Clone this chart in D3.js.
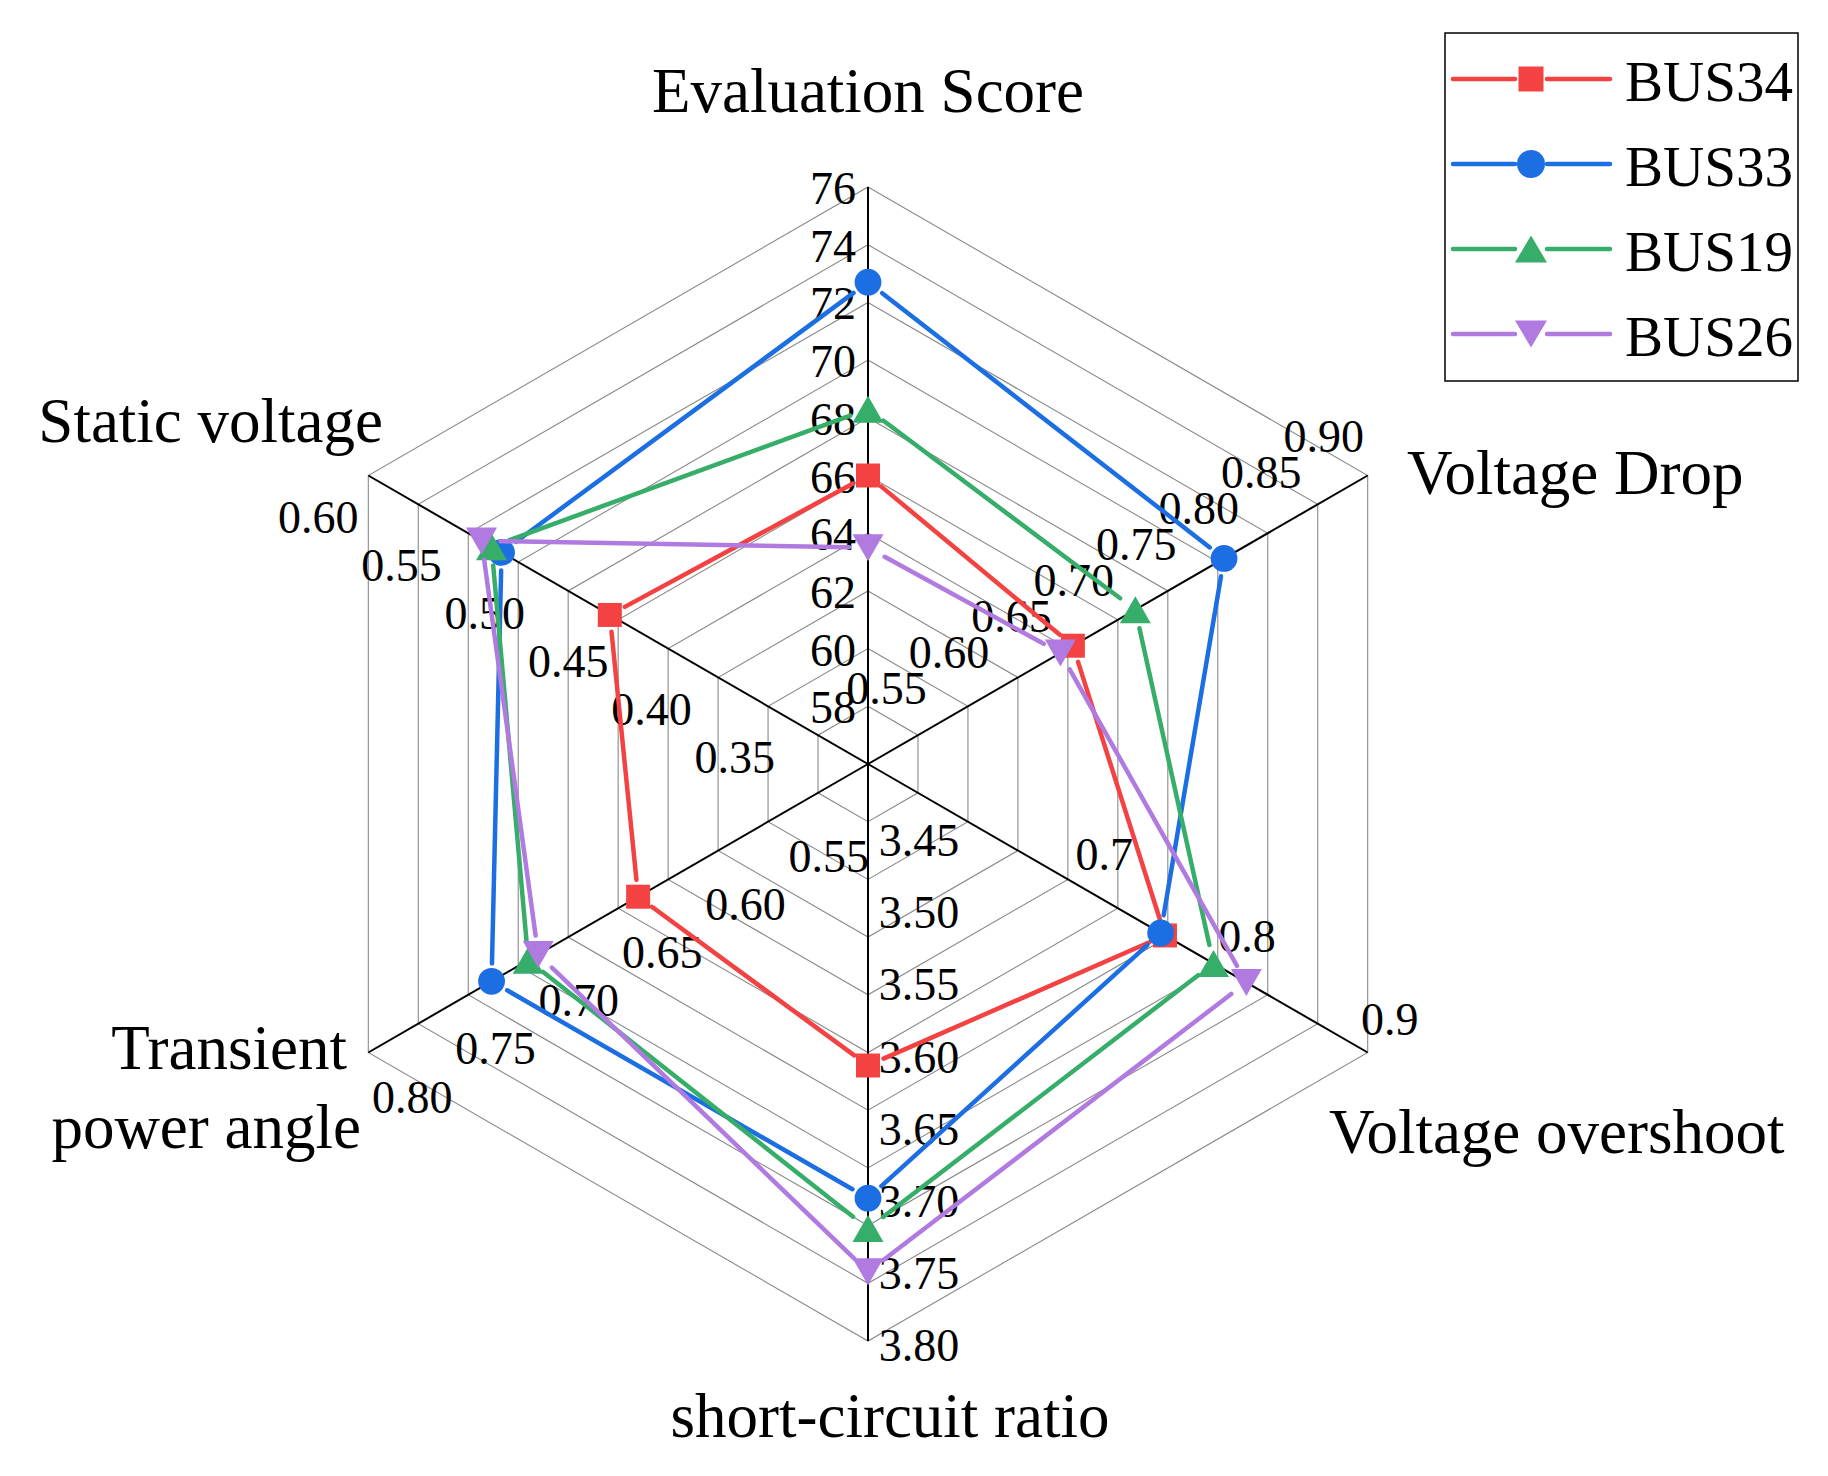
<!DOCTYPE html>
<html>
<head>
<meta charset="utf-8">
<script src="https://cdn.jsdelivr.net/npm/d3@7"></script>
<style>
	body{margin:0;background:#fff;}
	text{font-family:"Palatino Linotype","Book Antiqua",Palatino,"Liberation Serif",serif;fill:#000;}
</style>
</head>
<body>
<div id="container"></div>
<script>
// axes go clockwise from the top
const categories = ["Evaluation Score", "Voltage Drop", "Voltage overshoot", "short-circuit ratio", "Transient power angle", "Static voltage"];
const axisAngles = [90, 30, -30, -90, -150, 150];
const axisDomains = [[56, 76], [0.50, 0.90], [0.55, 0.90], [3.40, 3.80], [0.50, 0.80], [0.30, 0.60]];
const tickValues = [
	[58, 60, 62, 64, 66, 68, 70, 72, 74, 76],
	[0.55, 0.60, 0.65, 0.70, 0.75, 0.80, 0.85, 0.90],
	[0.7, 0.8, 0.9],
	[3.45, 3.50, 3.55, 3.60, 3.65, 3.70, 3.75, 3.80],
	[0.55, 0.60, 0.65, 0.70, 0.75, 0.80],
	[0.35, 0.40, 0.45, 0.50, 0.55, 0.60]
];
const tickFormats = ["d", ".2f", ".1f", ".2f", ".2f", ".2f"];

const seriesNames = ["BUS34", "BUS33", "BUS19", "BUS26"];
const bus34 = [66.0, 0.664, 0.758, 3.609, 0.638, 0.455];
const bus33 = [72.7, 0.785, 0.755, 3.701, 0.726, 0.520];
const bus19 = [68.3, 0.714, 0.792, 3.722, 0.704, 0.526];
const bus26 = [63.5, 0.654, 0.815, 3.752, 0.698, 0.532];
const seriesValues = [bus34, bus33, bus19, bus26];
const seriesColors = ["#f44141", "#1c6fe2", "#36ae6a", "#b07ae0"];
const seriesSymbols = ["square", "circle", "up", "down"];

let width = 1828;
let height = 1476;
let cx = 868;
let cy = 764;
let R = 577;
let rings = 10;

// where each axis puts its tick labels, relative to the tick point
const labelOffsets = [[-35, 2], [-44, -39], [22, -33], [51, 5], [44, 45], [-50, 42]];

let svg = d3.select("#container").append("svg")
	.attr("width", width)
	.attr("height", height)
	.attr("viewBox", [0, 0, width, height]);
svg.append("rect").attr("width", width).attr("height", height).attr("fill", "#fff");

let scales = axisDomains.map(d => d3.scaleLinear().domain(d).range([0, R]));

function pt(i, r){
	let a = axisAngles[i] * Math.PI / 180;
	return [cx + r * Math.cos(a), cy - r * Math.sin(a)];
}

// grid hexagons
let grid = svg.append("g").attr("fill", "none").attr("stroke", "#8a8a8a").attr("stroke-width", 1.1);
for(let k = 1; k <= rings; k++){
	let r = R * k / rings;
	let p = d3.range(6).map(i => pt(i, r));
	grid.append("path").attr("d", d3.line()(p) + "Z");
}

// axis spokes
svg.append("g").attr("stroke", "#000").attr("stroke-width", 2)
	.selectAll("line").data(categories).join("line")
	.attr("x1", cx).attr("y1", cy)
	.attr("x2", (d, i) => pt(i, R)[0])
	.attr("y2", (d, i) => pt(i, R)[1]);

// tick labels
let ticksG = svg.append("g").attr("font-size", 46).attr("text-anchor", "middle");
for(let i = 0; i < categories.length; i++){
	let fmt = d3.format(tickFormats[i]);
	ticksG.selectAll(null).data(tickValues[i]).join("text")
		.attr("x", d => pt(i, scales[i](d))[0] + labelOffsets[i][0])
		.attr("y", d => pt(i, scales[i](d))[1] + labelOffsets[i][1] + 15)
		.text(d => fmt(d));
}

// axis titles
let titles = svg.append("g").attr("font-size", 63);
titles.append("text").attr("x", cx).attr("y", 112).attr("text-anchor", "middle").text(categories[0]);
titles.append("text").attr("x", 1407).attr("y", 494).text(categories[1]);
titles.append("text").attr("x", 1329).attr("y", 1153).text(categories[2]);
titles.append("text").attr("x", 890).attr("y", 1437).attr("text-anchor", "middle").text(categories[3]);
titles.append("text").attr("x", 347).attr("y", 1069).attr("text-anchor", "end").text("Transient");
titles.append("text").attr("x", 361).attr("y", 1148).attr("text-anchor", "end").text("power angle");
titles.append("text").attr("x", 383).attr("y", 442).attr("text-anchor", "end").text(categories[5]);

function markerPath(kind, s){
	if(kind == "square") return "M" + (-s.sq/2) + "," + (-s.sq/2) + "h" + s.sq + "v" + s.sq + "h" + (-s.sq) + "Z";
	if(kind == "circle") return d3.symbol(d3.symbolCircle, Math.PI * s.r * s.r)();
	let w = s.tw / 2, h = s.th / 2;
	if(kind == "up") return "M0," + (-h) + "L" + w + "," + h + "L" + (-w) + "," + h + "Z";
	return "M0," + h + "L" + w + "," + (-h) + "L" + (-w) + "," + (-h) + "Z";
}
function markerGap(kind){
	if(kind == "square") return 17;
	if(kind == "circle") return 18;
	return 19;
}
let plotSize = {sq: 24, r: 13.4, tw: 31, th: 27};

// series lines with small gaps at the symbols, then the symbols
for(let s = 0; s < seriesValues.length; s++){
	let g = svg.append("g");
	let pts = seriesValues[s].map((v, i) => pt(i, scales[i](v)));
	let gap = markerGap(seriesSymbols[s]);
	let segs = [];
	for(let i = 0; i < pts.length; i++){
		let a = pts[i], b = pts[(i + 1) % pts.length];
		let dx = b[0] - a[0], dy = b[1] - a[1];
		let len = Math.sqrt(dx*dx + dy*dy);
		if(len <= 2 * gap) continue;
		segs.push([a[0] + dx*gap/len, a[1] + dy*gap/len, b[0] - dx*gap/len, b[1] - dy*gap/len]);
	}
	g.selectAll("line").data(segs).join("line")
		.attr("x1", d => d[0]).attr("y1", d => d[1])
		.attr("x2", d => d[2]).attr("y2", d => d[3])
		.attr("stroke", seriesColors[s]).attr("stroke-width", 4.5).attr("stroke-linecap", "round");
	g.selectAll("path").data(pts).join("path")
		.attr("transform", d => "translate(" + d[0] + "," + d[1] + ")")
		.attr("d", markerPath(seriesSymbols[s], plotSize))
		.attr("fill", seriesColors[s]);
}

// legend
let legend = svg.append("g");
legend.append("rect").attr("x", 1445).attr("y", 33).attr("width", 353).attr("height", 348)
	.attr("fill", "#fff").attr("stroke", "#000").attr("stroke-width", 1.5);
let legSize = {sq: 25, r: 14, tw: 32, th: 27};
for(let s = 0; s < seriesNames.length; s++){
	let y = 79 + s * 85;
	legend.append("line").attr("x1", 1453).attr("x2", 1515).attr("y1", y).attr("y2", y)
		.attr("stroke", seriesColors[s]).attr("stroke-width", 4.5).attr("stroke-linecap", "round");
	legend.append("line").attr("x1", 1547).attr("x2", 1610).attr("y1", y).attr("y2", y)
		.attr("stroke", seriesColors[s]).attr("stroke-width", 4.5).attr("stroke-linecap", "round");
	legend.append("path").attr("transform", "translate(1531," + y + ")")
		.attr("d", markerPath(seriesSymbols[s], legSize)).attr("fill", seriesColors[s]);
	legend.append("text").attr("x", 1625).attr("y", y + 22).attr("font-size", 57).text(seriesNames[s]);
}
</script>
</body>
</html>
